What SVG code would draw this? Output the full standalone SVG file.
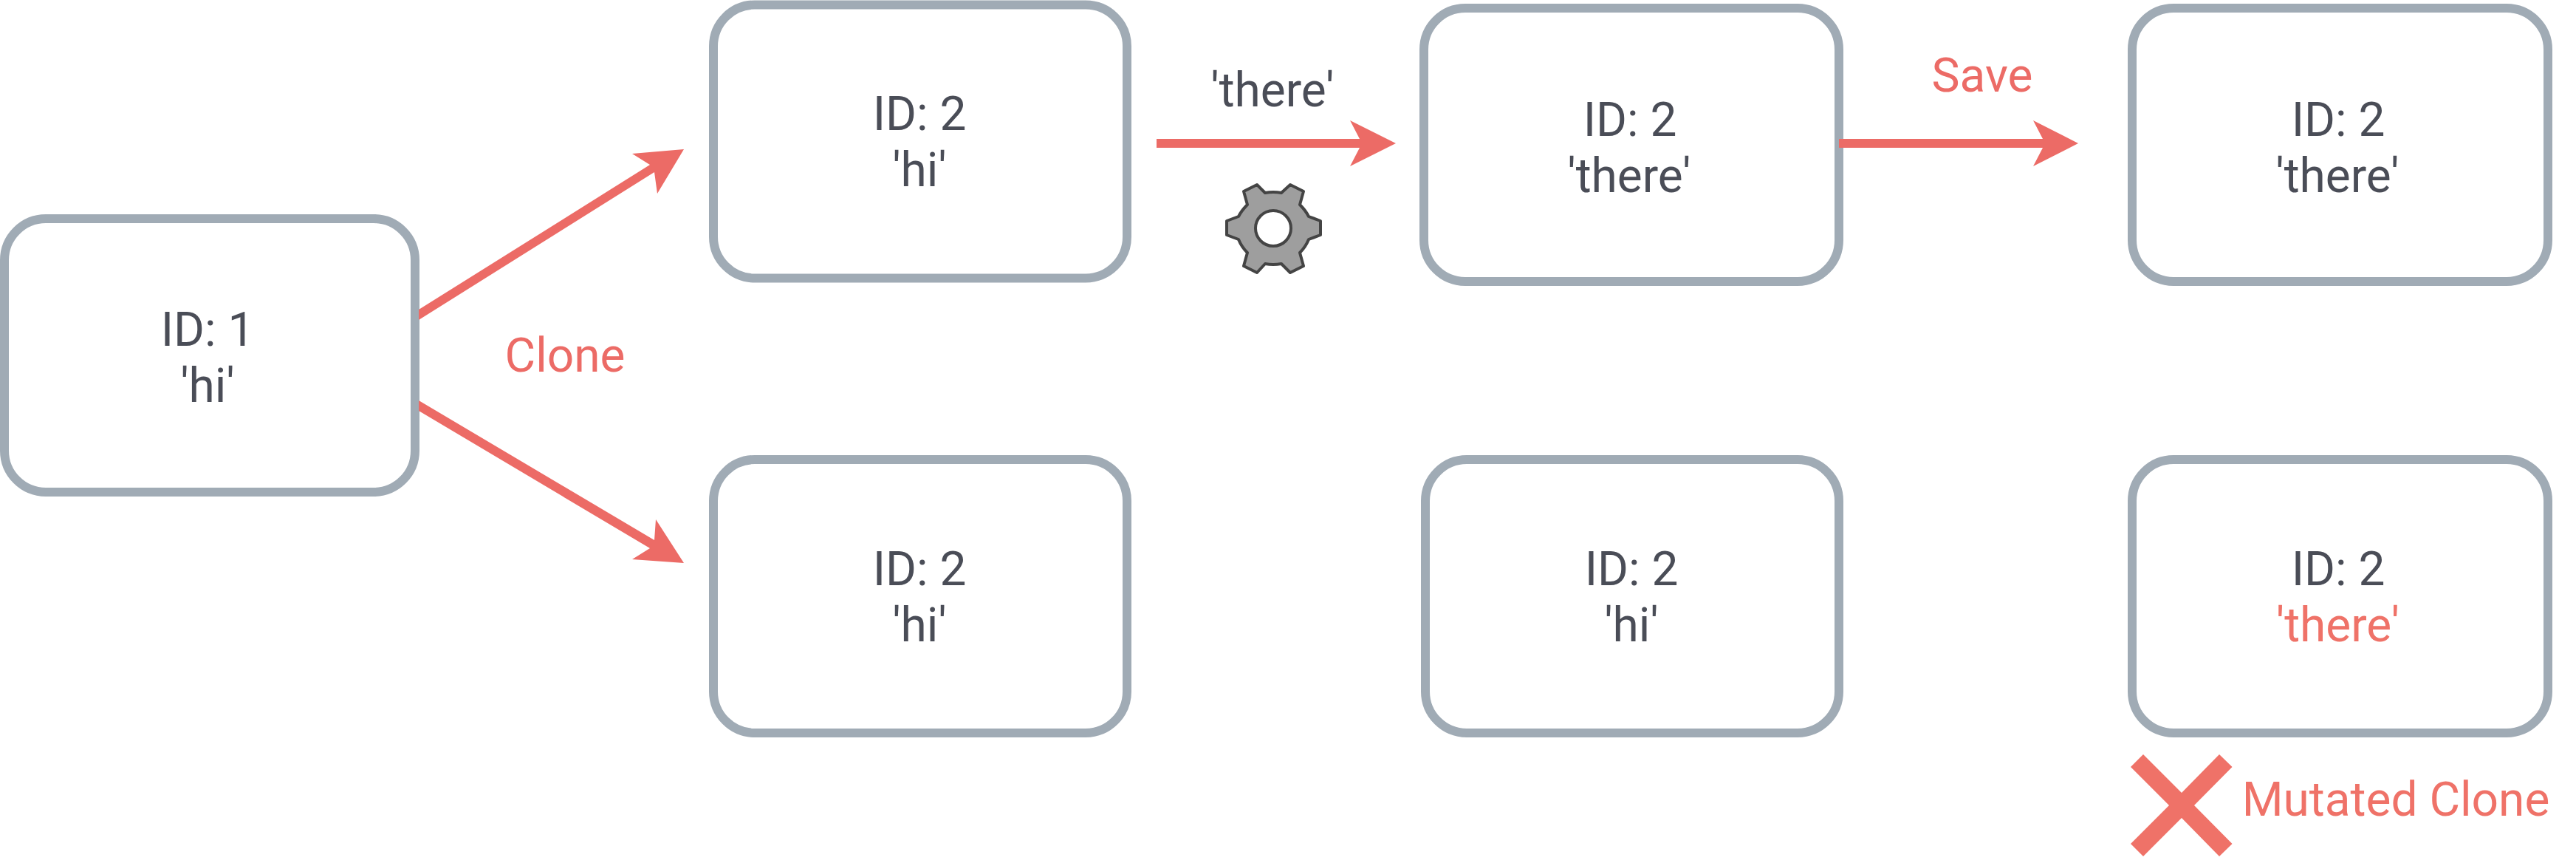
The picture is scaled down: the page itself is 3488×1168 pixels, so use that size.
<svg xmlns="http://www.w3.org/2000/svg" width="3488" height="1168" viewBox="0 0 3488 1168">
<style>
.box{fill:#fff;stroke:#a0abb5;stroke-width:12}
text{font-family:Roboto,"Liberation Sans",sans-serif;font-size:64px;text-anchor:middle;fill:#4a4d57}
.red{fill:#ec6b66}
.soft{fill:#ef7268}
.head{fill:#ec6b66}
</style>
<rect width="3488" height="1168" fill="#fff"/>
<g id="n1"><rect class="box" x="6" y="296" width="556" height="370" rx="56"/><text x="281" y="468">ID: 1</text><text x="281" y="544">'hi'</text></g>
<g id="n2"><rect class="box" x="966" y="6.5" width="560" height="370" rx="56"/><text x="1245" y="176">ID: 2</text><text x="1245" y="252">'hi'</text></g>
<g id="n3"><rect class="box" x="1928" y="11" width="562" height="370" rx="56"/><text x="2207" y="184">ID: 2</text><text x="2206" y="260">'there'</text></g>
<g id="n4"><rect class="box" x="2887" y="11" width="563" height="370" rx="56"/><text x="3166" y="184">ID: 2</text><text x="3165" y="260">'there'</text></g>
<g id="n5"><rect class="box" x="966" y="622" width="560" height="370" rx="56"/><text x="1245" y="792">ID: 2</text><text x="1245" y="868">'hi'</text></g>
<g id="n6"><rect class="box" x="1930" y="622" width="560" height="370" rx="56"/><text x="2209" y="792">ID: 2</text><text x="2209" y="868">'hi'</text></g>
<g id="n7"><rect class="box" x="2887" y="622" width="563" height="370" rx="56"/><text x="3166" y="792">ID: 2</text><text class="soft" x="3165.5" y="868">'there'</text></g>
<g id="connectors">
<polygon class="head" points="567,419 880,223 856,208 926,202 890,262 886,233 567,433"/>
<polygon class="head" points="567,542 886,731 888,703 926,762 856,757 880,742 567,556"/>
<polygon class="head" points="1566,188 1841,188 1828,163 1890,194 1828,225 1841,200 1566,200"/>
<polygon class="head" points="2490,188 2766,188 2753,163 2814,194 2753,225 2766,200 2490,200"/>
</g>
<g id="gear"><path fill="#9e9e9e" stroke="#444" stroke-width="4" stroke-linejoin="round" fill-rule="evenodd" d="M1713 261Q1724 259 1735 261L1747 250L1765 259L1760 277Q1768 285 1772 293L1788 299V318L1772 324Q1768 334 1760 342L1765 360L1747 369L1735 357Q1724 359 1713 357L1702 369L1684 360L1689 342Q1681 334 1677 324L1661 318V299L1677 293Q1681 285 1689 277L1684 259L1702 250ZM1748 309A24 24 0 1 0 1700 309A24 24 0 1 0 1748 309Z"/></g>
<g id="labels">
<text class="red" x="765" y="503">Clone</text>
<text x="1723" y="144">'there'</text>
<text class="red" x="2684" y="124">Save</text>
</g>
<g id="mutated"><polygon class="soft" points="2902,1021 2954,1073 3005,1021 3022.5,1038 2971,1090 3022.5,1142 3005,1159 2954,1107 2902,1159 2885,1142 2937,1090 2885,1038"/><text class="soft" x="3244" y="1104">Mutated Clone</text></g>
</svg>
